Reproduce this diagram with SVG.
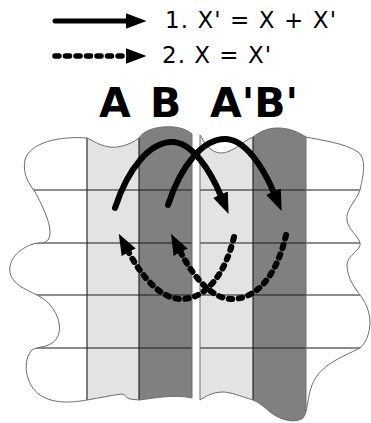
<svg xmlns="http://www.w3.org/2000/svg" width="371" height="423" viewBox="0 0 371 423">
<style>
  .legend { font-family: "DejaVu Sans", "Liberation Sans", sans-serif; font-size: 23px; fill: #000; }
  .big { font-family: "DejaVu Sans", "Liberation Sans", sans-serif; font-size: 41px; font-weight: bold; fill: #000; }
  .light { fill: #e3e3e3; }
  .dark { fill: #808080; }
  .grid { stroke: #1a1a1a; stroke-width: 1.1; fill: none; }
  .edge { stroke: #6e6e6e; stroke-width: 1; fill: none; }
  .solid { stroke: #000; stroke-width: 6; fill: none; stroke-linecap: round; }
  .dashed { stroke: #000; stroke-width: 6; fill: none; stroke-linecap: round; stroke-dasharray: 3.5 6.5; }
  .lsolid { stroke: #000; stroke-width: 5; fill: none; stroke-linecap: round; }
  .ldashed { stroke: #000; stroke-width: 5.5; fill: none; stroke-linecap: round; stroke-dasharray: 4 6.5; }
</style>
<defs>
  <marker id="head" markerUnits="userSpaceOnUse" viewBox="0 0 22 18" markerWidth="22" markerHeight="18" refX="1.5" refY="8" orient="auto">
    <path d="M0,0 L21,8 L0,16 Z" fill="#000"/>
  </marker>
  <path id="leftShape" d="M87,138 C60,136 30,142 25,160 C22,175 30,185 35,192 C42,205 55,230 48,240 C45,244 38,242 33,244 C15,250 5,265 12,278 C20,290 35,292 45,300 C60,312 65,335 52,343 C45,348 38,346 32,350 C22,360 25,385 40,395 C55,405 75,402 87,400 C100,398 112,395 122,394 C126,394 126,399 130,399 L139,400 C155,398 175,394 192,398 L192,134 C185,128 175,126 163,127 C150,128 142,133 139,138 C130,145 118,148 110,147 C100,146 92,140 87,138 Z"/>
  <path id="rightShape" d="M200,135 C204,142 210,152 220,153 C232,154 244,140 253,137 C262,130 270,128 278,128 C290,128 300,133 306,137 C320,140 345,143 358,152 C368,160 362,180 360,190 C357,200 345,210 347,220 C348,230 358,235 360,243 C362,250 347,255 347,265 C347,278 355,288 360,295 C368,305 373,320 368,335 C366,342 362,346 360,348 C340,358 320,365 312,385 C307,398 308,412 303,418 C295,424 280,420 270,412 C262,405 258,402 253,400 C240,396 230,392 223,392 C212,392 205,397 200,400 Z"/>
  <clipPath id="clipLeft"><use href="#leftShape"/></clipPath>
  <clipPath id="clipRight"><use href="#rightShape"/></clipPath>
</defs>
<rect width="371" height="423" fill="#fff"/>

<g id="legend">
  <path class="lsolid" d="M55,21 L127,21" marker-end="url(#head)"/>
  <text class="legend" x="165" y="28" textLength="171" lengthAdjust="spacing">1. X' = X + X'</text>
  <path class="ldashed" d="M55,56 L127,56" marker-end="url(#head)"/>
  <text class="legend" x="162" y="63" textLength="109" lengthAdjust="spacing">2. X = X'</text>
</g>

<g id="labels">
  <text class="big" x="99" y="117">A</text>
  <text class="big" x="150" y="117">B</text>
  <text class="big" x="210" y="117">A'B'</text>
</g>

<g id="sheet-left">
  <use href="#leftShape" fill="#fff"/>
  <g clip-path="url(#clipLeft)">
    <rect class="light" x="87" y="100" width="52" height="320"/>
    <rect class="dark" x="139" y="100" width="53" height="320"/>
    <path class="grid" d="M0,190 H200 M0,243 H200 M0,295 H200 M0,348 H200 M87,100 V420 M139,100 V420"/>
  </g>
  <use href="#leftShape" class="edge"/>
</g>

<g id="sheet-right">
  <use href="#rightShape" fill="#fff"/>
  <g clip-path="url(#clipRight)">
    <rect class="light" x="200" y="100" width="53" height="330"/>
    <rect class="dark" x="253" y="100" width="53" height="330"/>
    <path class="grid" d="M195,190 H371 M195,243 H371 M195,295 H371 M195,348 H371 M253,100 V430"/>
    <path class="edge" d="M306,100 V430"/>
  </g>
  <use href="#rightShape" class="edge"/>
</g>

<g id="connectors">
  <path class="solid" d="M115,208 C128,168 150,142 172,142 C192,142 210,170 221,196" marker-end="url(#head)"/>
  <path class="solid" d="M168,205 C181,165 203,139 225,139 C245,139 263,167 274,193" marker-end="url(#head)"/>
  <path class="dashed" d="M234,237 C225,275 205,300 180,299 C160,298 142,277 128,251" marker-end="url(#head)"/>
  <path class="dashed" d="M286,235 C277,275 257,299 232,299 C212,299 194,278 180,251" marker-end="url(#head)"/>
</g>
</svg>
